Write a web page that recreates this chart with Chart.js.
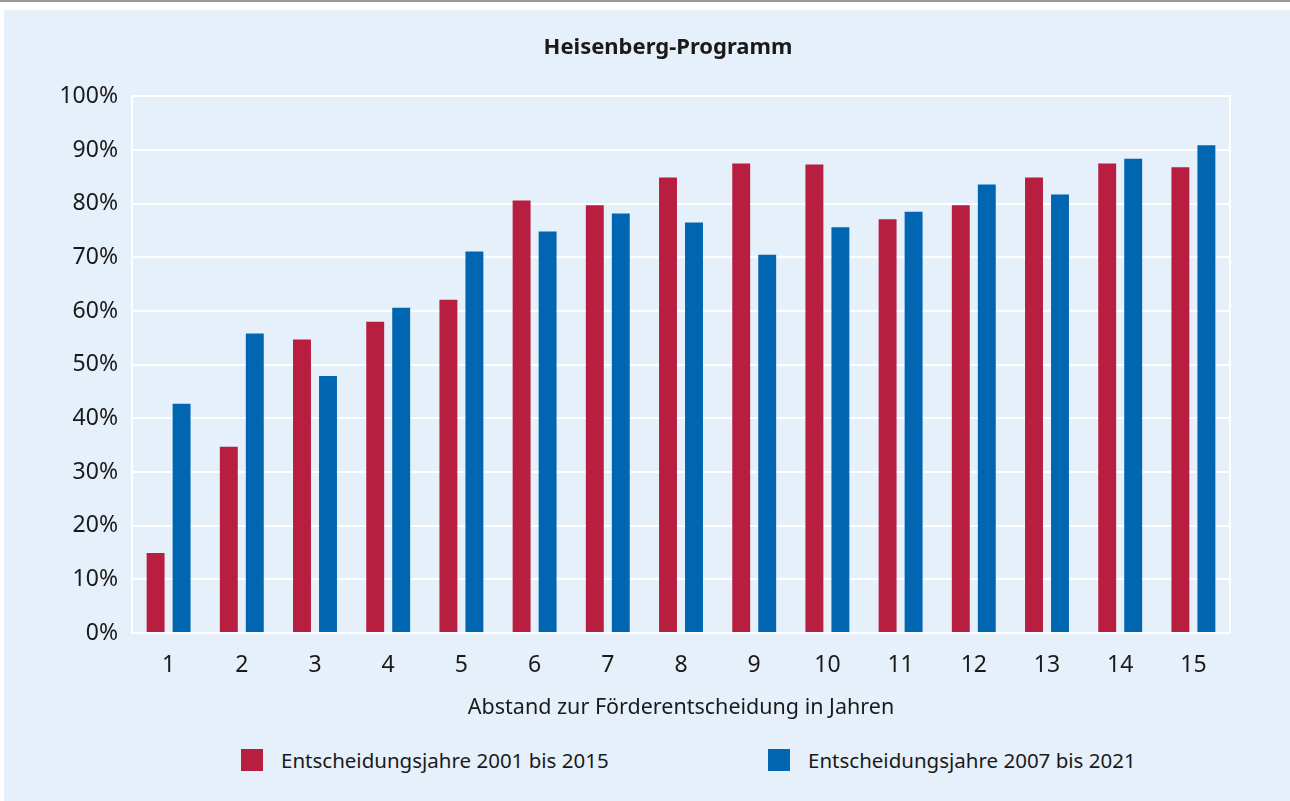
<!DOCTYPE html>
<html lang="de">
<head>
<meta charset="utf-8">
<title>Heisenberg-Programm</title>
<script src="https://cdn.jsdelivr.net/npm/chart.js@4/dist/chart.umd.min.js"></script>
<style>
  html, body { margin: 0; padding: 0; background: #fff; }
  body { width: 1290px; height: 801px; position: relative; overflow: hidden; }
  .topline { position: absolute; left: 0; top: 0; width: 1290px; height: 2px; background: #9a9a9a; }
  .panel { position: absolute; left: 4px; top: 10px; width: 1286px; height: 791px; background: #e6f0fa; }
  .chart-box { position: absolute; left: 0; top: 0; width: 1286px; height: 720px; }
  .legend { font-family: 'Noto Sans', sans-serif; font-size: 20.5px; color: #1a1a1a; }
  .legend .item { position: absolute; top: 736px; display: flex; align-items: center; white-space: nowrap; }
  .legend .box { width: 22px; height: 22px; margin-right: 18px; flex: none; }
</style>
</head>
<body>
<div class="topline"></div>
<div class="panel">
  <div class="chart-box"><canvas id="chart"></canvas></div>
  <div class="legend" id="legend"></div>
</div>
<script>
// ─── Data ─────────────────────────────────────────────────────────────────────
const YEARS = ['1', '2', '3', '4', '5', '6', '7', '8', '9', '10', '11', '12', '13', '14', '15'];
const SERIES_2001_2015 = [14.9, 34.7, 54.7, 58.0, 62.1, 80.6, 79.7, 84.9, 87.5, 87.3, 77.1, 79.7, 84.9, 87.5, 86.8];
const SERIES_2007_2021 = [42.7, 55.8, 47.9, 60.6, 71.1, 74.8, 78.2, 76.5, 70.5, 75.6, 78.5, 83.6, 81.7, 88.4, 90.9];
const LABEL_A = 'Entscheidungsjahre 2001 bis 2015';
const LABEL_B = 'Entscheidungsjahre 2007 bis 2021';

// ─── Theme ────────────────────────────────────────────────────────────────────
const RED   = '#b81e40';
const BLUE  = '#0066b1';
const WHITE = '#ffffff';
const TEXT  = '#1a1a1a';
const FONT  = "'Noto Sans', sans-serif";

const LEGEND_X = [237, 764]; // left edge of each legend item, panel px

const chart = new Chart(document.getElementById('chart'), {
  type: 'bar',
  data: {
    labels: YEARS,
    datasets: [
      { label: LABEL_A, data: SERIES_2001_2015, backgroundColor: RED },
      { label: LABEL_B, data: SERIES_2007_2021, backgroundColor: BLUE },
    ],
  },
  options: {
    responsive: true,
    maintainAspectRatio: false,
    animation: false,
    datasets: { bar: { categoryPercentage: 0.71, barPercentage: 0.69 } },
    // negative right padding moves the (full width) title centre right,
    // the wider right axis keeps the plot edge where it was
    layout: { padding: { left: 0, right: -42, top: 0, bottom: 0 } },
    plugins: {
      legend: { display: false },
      tooltip: { enabled: false },
      title: {
        display: true,
        text: 'Heisenberg-Programm',
        color: TEXT,
        font: { family: FONT, size: 22, weight: 'bold' },
        padding: { top: 25, bottom: 35 },
      },
    },
    scales: {
      x: {
        grid: { display: false },
        border: { color: WHITE, width: 2 },
        ticks: { color: TEXT, font: { family: FONT, size: 23 }, padding: 11 },
        title: {
          display: true,
          text: 'Abstand zur Förderentscheidung in Jahren',
          color: TEXT,
          font: { family: FONT, size: 21.5 },
          padding: { top: 4, bottom: 9 },
        },
        afterFit: s => { s.height = 97; },
      },
      y: {
        min: 0, max: 100,
        ticks: {
          stepSize: 10,
          color: TEXT,
          font: { family: FONT, size: 23 },
          padding: 14,
          callback: v => v + '%',
        },
        grid: { color: WHITE, lineWidth: 2, drawTicks: false },
        border: { color: WHITE, width: 2 },
        afterFit: s => { s.width = 128; },
      },
      y2: {
        position: 'right',
        min: 0, max: 100,
        ticks: { display: false },
        grid: { display: false },
        border: { color: WHITE, width: 2 },
        afterFit: s => { s.width = 102; },
      },
    },
  },
});

// ─── HTML legend ──────────────────────────────────────────────────────────────
const legendEl = document.getElementById('legend');
chart.data.datasets.forEach((ds, i) => {
  const item = document.createElement('div');
  item.className = 'item';
  item.style.left = LEGEND_X[i] + 'px';
  const box = document.createElement('span');
  box.className = 'box';
  box.style.background = ds.backgroundColor;
  const txt = document.createElement('span');
  txt.textContent = ds.label;
  item.appendChild(box);
  item.appendChild(txt);
  legendEl.appendChild(item);
});
</script>
</body>
</html>
